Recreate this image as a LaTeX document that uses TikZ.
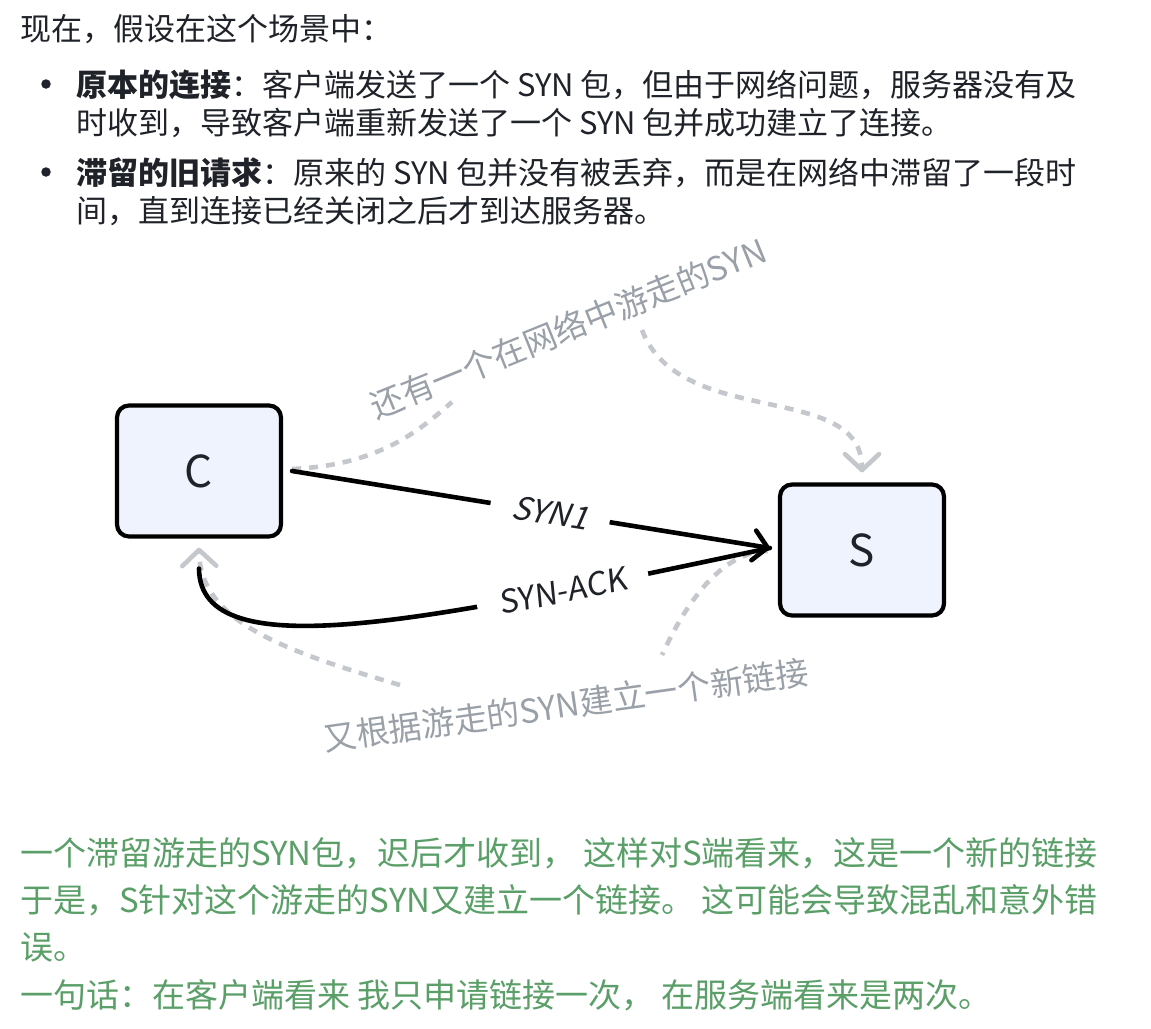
\documentclass[tikz,border=0pt]{standalone}
\usepackage{fontspec}
\setmainfont{Noto Sans CJK SC}
\newfontfamily\slfont[FakeSlant=0.25]{Noto Sans CJK SC}
\newfontfamily\slightfont[FakeSlant=0.1]{Noto Sans CJK SC}
\usetikzlibrary{arrows.meta}
\definecolor{ink}{HTML}{1F2329}
\definecolor{boxfill}{HTML}{EEF3FD}
\definecolor{dashgray}{HTML}{C4C7CC}
\definecolor{labelgray}{HTML}{9AA0A8}
\definecolor{notegreen}{HTML}{5A9F68}
\begin{document}
\begin{tikzpicture}[x=1pt,y=-1pt,
  txt/.style={anchor=base west, inner sep=0pt, text=ink, font=\fontsize{31}{36}\selectfont},
  gtxt/.style={anchor=base west, inner sep=0pt, text=notegreen, font=\fontsize{33}{38}\selectfont},
  bulletdot/.style={circle, fill=ink, inner sep=0pt, minimum size=9.5pt},
  box/.style={draw=black, line width=4.2pt, rounded corners=12pt, fill=boxfill,
    minimum width=164pt, minimum height=131pt, text=ink, font=\fontsize{44}{50}\selectfont},
  blackline/.style={line width=4.6pt, draw=black, line cap=round},
  grayline/.style={line width=4.6pt, draw=dashgray, dash pattern=on 9pt off 8pt},
  chev/.style={-{Straight Barb[length=14pt,width=30pt,round]}},
  gchev/.style={-{Straight Barb[length=16pt,width=34pt,round]}},
  lbl/.style={fill=white, inner xsep=22pt, inner ysep=3pt, text=ink},
  glabel/.style={text=labelgray, inner sep=0pt, font=\fontsize{33}{40}\selectfont}
]
\useasboundingbox (0,0) rectangle (1151,1028);
\fill[white] (0,0) rectangle (1151,1028);

% top text
\node[txt] (t1) at (20,40) {现在，假设在这个场景中：};
\node[bulletdot] (b1) at (46,84) {};
\node[txt] (t2) at (76,96) {\textbf{原本的连接}：客户端发送了一个 SYN 包，但由于网络问题，服务器没有及};
\node[txt] (t3) at (76,134) {时收到，导致客户端重新发送了一个 SYN 包并成功建立了连接。};
\node[bulletdot] (b2) at (46,172) {};
\node[txt] (t4) at (76,184) {\textbf{滞留的旧请求}：原来的 SYN 包并没有被丢弃，而是在网络中滞留了一段时};
\node[txt] (t5) at (76,222) {间，直到连接已经关闭之后才到达服务器。};

% boxes
\node[box] (C) at (199,471) {C};
\node[box] (S) at (862,550) {S};

% gray labels
\node[glabel, rotate=22] (l1) at (568,328) {还有一个在网络中游走的SYN};
\node[glabel, rotate=8] (l2) at (566,705) {又根据游走的SYN建立一个新链接};

\coordinate (g1a) at (452,402);
\coordinate (g1b) at (642,330);
\coordinate (g2a) at (662,655);
\coordinate (g2b) at (400,685);

% gray dashed paths
\draw[grayline] ([xshift=9pt,yshift=2pt]C.east) .. controls (380,465) and (420,430) .. (g1a);
\draw[grayline, gchev] (g1b) .. controls (680,430) and (862,380) .. ([yshift=10pt]S.north);
\draw[grayline] ([xshift=-10pt,yshift=-1pt]S.west) .. controls (720,552) and (685,605) .. (g2a);
\draw[grayline, gchev] (g2b) .. controls (280,650) and (200,620) .. ([yshift=-9pt]C.south);

% black connectors
\draw[blackline] ([yshift=-30pt]C.south) .. controls (200,670) and (430,620) ..
  node[lbl, sloped, pos=0.78, font={\slightfont\fontsize{32}{38}\selectfont}] (ack) {SYN-ACK} ([xshift=-8pt,yshift=2pt]S.west);
\draw[blackline, chev] ([xshift=9pt]C.east) --
  node[lbl, sloped, pos=0.54, font={\slfont\fontsize{32}{38}\selectfont}] (syn) {SYN1} ([xshift=-8pt,yshift=2pt]S.west);

% green notes
\node[gtxt] (n1) at (20,865) {一个滞留游走的SYN包，迟后才收到， 这样对S端看来，这是一个新的链接};
\node[gtxt] (n2) at (20,912) {于是，S针对这个游走的SYN又建立一个链接。 这可能会导致混乱和意外错};
\node[gtxt] (n3) at (20,959) {误。};
\node[gtxt] (n4) at (20,1007) {一句话：在客户端看来 我只申请链接一次， 在服务端看来是两次。};
\end{tikzpicture}
\end{document}
